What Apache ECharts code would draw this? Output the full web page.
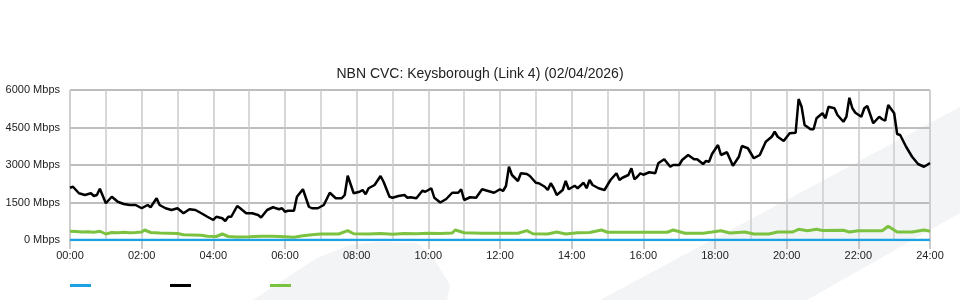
<!DOCTYPE html>
<html>
<head>
<meta charset="utf-8">
<script src="https://cdn.jsdelivr.net/npm/echarts@6/dist/echarts.min.js"></script>
<style>
html,body{margin:0;padding:0;background:#fff;}
#chart{width:960px;height:300px;}
</style>
</head>
<body>
<div id="chart"></div>
<script>
// Minutes since midnight and Mbps values
const blackTimes = [0,5,15,25,35,40,45,50,60,70,80,90,100,110,120,130,135,145,150,160,170,180,190,200,210,220,230,240,245,255,260,265,270,280,285,295,305,315,320,330,340,350,355,360,365,375,380,390,400,405,415,425,435,445,455,460,465,475,485,490,495,500,510,520,525,535,540,550,560,565,570,580,590,595,605,610,620,630,640,650,655,660,670,680,690,700,710,720,725,730,735,740,750,755,765,770,780,785,795,800,805,810,815,825,830,835,845,850,860,865,870,875,885,895,905,915,920,925,935,940,945,950,955,960,970,980,985,995,1005,1010,1020,1025,1035,1045,1050,1060,1065,1070,1075,1085,1090,1100,1110,1120,1125,1135,1145,1155,1165,1175,1180,1185,1195,1205,1215,1220,1225,1230,1240,1245,1250,1260,1265,1270,1280,1285,1295,1300,1305,1310,1315,1325,1330,1335,1345,1355,1360,1365,1370,1380,1385,1390,1400,1410,1420,1430,1435,1440];
const blackValues = [2090,2130,1870,1800,1870,1760,1800,2050,1470,1730,1530,1440,1400,1400,1270,1400,1310,1670,1400,1270,1200,1270,1070,1230,1200,1070,930,800,930,870,760,930,930,1360,1270,1070,1070,1000,900,1200,1310,1230,1270,1130,1170,1170,1730,2030,1330,1270,1270,1400,1890,1670,1670,1800,2570,1870,1930,2000,1830,2070,2200,2560,2330,1730,1690,1760,1800,1690,1710,1670,1970,1930,2070,1690,1500,1640,1890,1890,2030,1600,1710,1690,2030,1960,1890,2030,1960,2160,2930,2600,2360,2670,2640,2560,2290,2270,2130,2000,2270,2070,1800,2000,2360,2030,2170,2070,2290,2070,2400,2200,2070,2000,2400,2670,2400,2490,2600,2870,2430,2530,2670,2610,2710,2670,3070,3230,2930,3000,3000,3200,3400,3230,3230,3040,3160,3130,3440,3800,3400,3510,2970,3330,3760,3670,3270,3400,3930,4130,4330,4130,3960,4270,4290,5640,5330,4600,4430,4430,4870,5070,4870,5330,5270,5000,4730,4930,5690,5270,5090,4930,5270,5360,4670,4930,4830,4770,5400,5070,4240,4200,3730,3330,3040,2930,3000,3080];

const greenTimes = [0,10,20,30,40,50,60,70,80,90,100,110,120,125,135,150,165,180,190,205,220,230,245,255,265,280,300,320,340,360,375,390,405,420,450,465,475,500,520,540,560,580,600,620,640,645,660,690,720,750,765,775,800,815,830,850,870,890,900,950,1000,1010,1030,1060,1075,1090,1105,1130,1145,1170,1185,1210,1220,1235,1250,1260,1295,1305,1320,1360,1370,1385,1410,1430,1440];
const greenValues = [350,340,320,330,310,350,240,300,290,310,290,300,320,400,300,280,270,260,210,200,190,150,140,240,140,120,130,150,150,130,110,170,210,240,240,373,250,240,260,230,260,250,270,260,280,400,290,270,270,270,373,250,240,320,240,290,300,400,310,310,310,400,270,270,320,373,280,320,240,240,320,320,427,373,427,380,390,320,373,373,547,320,320,400,350];

const blueTimes = [0,240,480,720,960,1200,1440];
const blueValues = [0,0,0,0,0,0,0];

const yTicks = [0,1500,3000,4500,6000];
const xTickLabels = ['00:00','02:00','04:00','06:00','08:00','10:00','12:00','14:00','16:00','18:00','20:00','22:00','24:00'];
const seriesNames = ['Capacity','Download','Upload'];
const titleText = 'NBN CVC: Keysborough (Link 4) (02/04/2026)';

const zip = (t, v) => t.map((x, i) => [x, v[i]]);
const FONT = "'Liberation Sans', Arial, sans-serif";

const chart = echarts.init(document.getElementById('chart'), null, {renderer: 'canvas'});
chart.setOption({
  animation: false,
  backgroundColor: '#ffffff',
  textStyle: {fontFamily: FONT},
  graphic: [
    {type: 'polygon', silent: true, z: -100, shape: {points: [[600,300],[960,107],[960,213],[807,300]]}, style: {fill: '#f3f4f6'}},
    {type: 'polygon', silent: true, z: -100, shape: {points: [[253,300],[283,280],[317,258],[350,245],[377,242],[417,243],[433,257],[450,285],[447,300]]}, style: {fill: '#f3f4f6'}}
  ],
  title: {
    text: titleText,
    left: 'center',
    top: 62,
    textStyle: {fontSize: 14, fontWeight: 'normal', color: '#222', fontFamily: FONT}
  },
  legend: {
    left: 65,
    top: 279,
    icon: 'rect',
    itemWidth: 21,
    itemHeight: 3,
    itemGap: 79,
    formatter: () => '',
    data: seriesNames,
    textStyle: {fontSize: 11}
  },
  grid: {
    left: 70, right: 30, top: 90, bottom: 60,
    show: true, borderColor: '#c8c8c8', borderWidth: 1, backgroundColor: 'transparent'
  },
  xAxis: {
    type: 'value', min: 0, max: 1440, interval: 120,
    axisLine: {show: true, lineStyle: {color: '#c8c8c8', width: 1}},
    axisTick: {show: true, length: 9, lineStyle: {color: '#bbbbbb', width: 1.5}},
    minorTick: {show: false, splitNumber: 2},
    splitLine: {show: true, lineStyle: {color: '#c8c8c8', width: 1.5}},
    minorSplitLine: {show: true, lineStyle: {color: '#cccccc', width: 1.5}},
    axisLabel: {
      fontSize: 11, color: '#222', margin: 10, fontFamily: FONT,
      formatter: v => xTickLabels[Math.round(v / 120)]
    }
  },
  yAxis: {
    type: 'value', min: yTicks[0], max: yTicks[yTicks.length - 1], interval: 1500,
    axisLine: {show: false},
    axisTick: {show: false},
    splitLine: {show: true, lineStyle: {color: '#bdbdbd', width: 2}},
    axisLabel: {fontSize: 11, color: '#222', margin: 10, fontFamily: FONT, formatter: v => String(v) + ' Mbps'}
  },
  series: [
    {name: seriesNames[0], type: 'line', data: zip(blueTimes, blueValues), showSymbol: false,
     lineStyle: {color: '#1ca1e2', width: 2.5}, itemStyle: {color: '#1ca1e2'}, z: 3},
    {name: seriesNames[1], type: 'line', data: zip(blackTimes, blackValues), showSymbol: false,
     lineStyle: {color: '#000000', width: 2.5}, itemStyle: {color: '#000000'}, z: 4},
    {name: seriesNames[2], type: 'line', data: zip(greenTimes, greenValues), showSymbol: false,
     lineStyle: {color: '#7cc241', width: 3}, itemStyle: {color: '#7cc241'}, z: 2}
  ]
});
</script>
</body>
</html>
